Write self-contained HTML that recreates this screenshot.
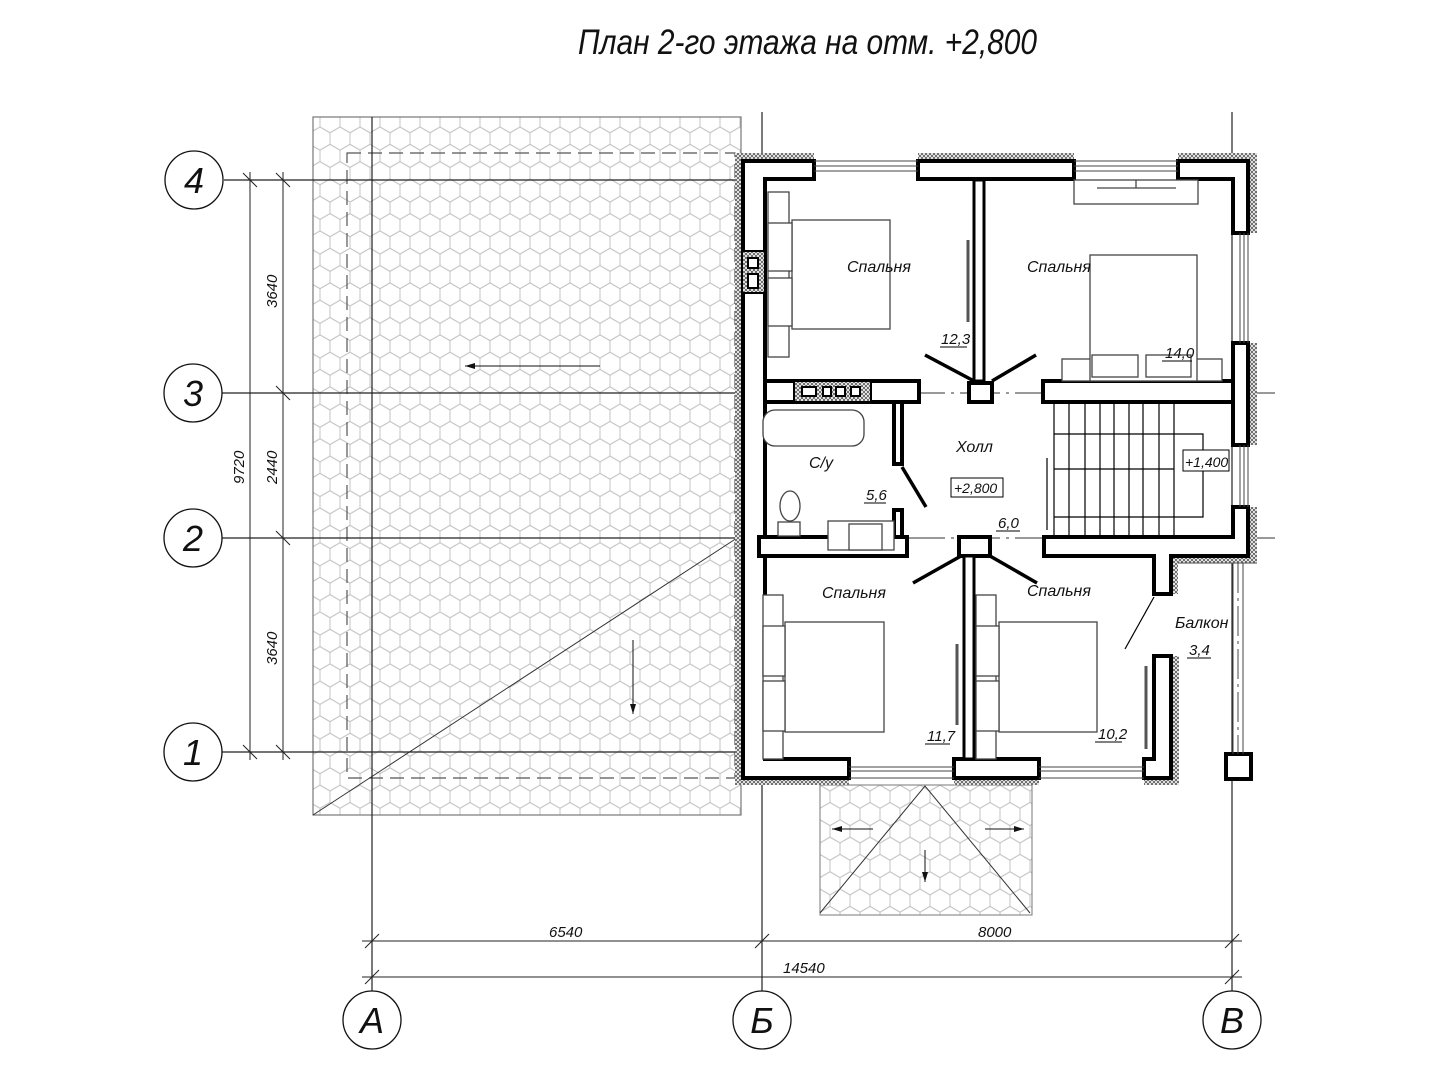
<!DOCTYPE html>
<html><head><meta charset="utf-8"><style>
html,body{margin:0;padding:0;background:#fff;}
svg{display:block;}
text{font-family:"Liberation Sans","DejaVu Sans",sans-serif;font-style:italic;fill:#111;}
</style></head><body>
<svg width="1440" height="1080" viewBox="0 0 1440 1080" xmlns="http://www.w3.org/2000/svg">
<defs>
<pattern id="hex" width="20" height="34.64" patternUnits="userSpaceOnUse">
<g fill="none" stroke="#c4c4c4" stroke-width="1">
<polygon points="10,5.77 20,11.55 20,23.09 10,28.87 0,23.09 0,11.55"/>
<polygon points="0,-11.55 10,-5.77 10,5.77 0,11.55 -10,5.77 -10,-5.77"/>
<polygon points="20,-11.55 30,-5.77 30,5.77 20,11.55 10,5.77 10,-5.77"/>
<polygon points="0,23.09 10,28.87 10,40.41 0,46.19 -10,40.41 -10,28.87"/>
<polygon points="20,23.09 30,28.87 30,40.41 20,46.19 10,40.41 10,28.87"/>
</g></pattern>
<pattern id="cross" width="4" height="4" patternUnits="userSpaceOnUse">
<rect width="4" height="4" fill="#fff"/><path d="M0,0L4,4M4,0L0,4" stroke="#555" stroke-width="0.8"/>
</pattern>
<marker id="ar" markerWidth="10" markerHeight="6" refX="10" refY="3" orient="auto" markerUnits="userSpaceOnUse"><path d="M0,0L10,3L0,6z" fill="#111"/></marker>
</defs>

<!-- title -->
<text x="578" y="54" font-size="35" textLength="459" lengthAdjust="spacingAndGlyphs" style="font-weight:normal">План 2-го этажа на отм. +2,800</text>

<!-- left roof -->
<rect x="313" y="117" width="428" height="698" fill="url(#hex)" stroke="#777" stroke-width="1.2"/>
<rect x="347" y="153" width="388" height="625" fill="none" stroke="#555" stroke-width="1.2" stroke-dasharray="14,7"/>
<line x1="313" y1="815" x2="737" y2="538" stroke="#333" stroke-width="1"/>
<line x1="600" y1="366" x2="465" y2="366" stroke="#111" stroke-width="1" marker-end="url(#ar)"/>
<line x1="633" y1="640" x2="633" y2="714" stroke="#111" stroke-width="1" marker-end="url(#ar)"/>

<!-- porch roof -->
<rect x="820" y="785" width="212" height="130" fill="url(#hex)" stroke="#777" stroke-width="1"/>
<polyline points="820,913 925,786 1030,913" fill="none" stroke="#333" stroke-width="1"/>
<line x1="873" y1="829" x2="832" y2="829" stroke="#111" marker-end="url(#ar)"/>
<line x1="985" y1="829" x2="1024" y2="829" stroke="#111" marker-end="url(#ar)"/>
<line x1="925" y1="850" x2="925" y2="882" stroke="#111" marker-end="url(#ar)"/>

<!-- grid lines -->
<g stroke="#222" stroke-width="1.2">
<line x1="372" y1="117" x2="372" y2="992"/>
<line x1="762" y1="112" x2="762" y2="992"/>
<line x1="1232" y1="112" x2="1232" y2="992"/>
<line x1="224" y1="180" x2="760" y2="180"/>
<line x1="221" y1="393" x2="740" y2="393"/>
<line x1="221" y1="538" x2="740" y2="538"/>
<line x1="221" y1="752" x2="740" y2="752"/>
</g>
<g stroke="#333" stroke-width="1" stroke-dasharray="40,6,3,6">
<line x1="740" y1="393" x2="1275" y2="393"/>
<line x1="740" y1="538" x2="1275" y2="538"/>
</g>
<!-- axis circles -->
<g fill="#fff" stroke="#111" stroke-width="1.3">
<circle cx="194" cy="180" r="29"/><circle cx="193" cy="393" r="29"/><circle cx="193" cy="538" r="29"/><circle cx="193" cy="752" r="29"/>
<circle cx="372" cy="1020" r="29"/><circle cx="762" cy="1020" r="29"/><circle cx="1232" cy="1020" r="29"/>
</g>
<g font-size="36" text-anchor="middle">
<text x="194" y="193">4</text><text x="193" y="406">3</text><text x="193" y="551">2</text><text x="193" y="765">1</text>
<text x="372" y="1033">А</text><text x="762" y="1033">Б</text><text x="1232" y="1033">В</text>
</g>

<!-- dims left -->
<g stroke="#222" stroke-width="1">
<line x1="250" y1="172" x2="250" y2="760"/>
<line x1="283" y1="172" x2="283" y2="760"/>
<path d="M243,173l14,14M276,173l14,14M276,386l14,14M276,531l14,14M243,745l14,14M276,745l14,14"/>
<line x1="362" y1="941" x2="1242" y2="941"/>
<line x1="362" y1="977" x2="1242" y2="977"/>
<path d="M365,948l14,-14M755,948l14,-14M1225,948l14,-14M365,984l14,-14M1225,984l14,-14"/>
</g>
<g font-size="15">
<text transform="translate(277,308) rotate(-90)">3640</text>
<text transform="translate(277,484) rotate(-90)">2440</text>
<text transform="translate(277,665) rotate(-90)">3640</text>
<text transform="translate(244,484) rotate(-90)">9720</text>
<text x="549" y="937">6540</text>
<text x="978" y="937">8000</text>
<text x="783" y="973">14540</text>
</g>

<!-- outer hatch layer -->
<g fill="url(#cross)" stroke="none">
<rect x="735" y="153" width="8" height="627"/>
<rect x="735" y="153" width="79" height="8"/>
<rect x="918" y="153" width="156" height="8"/>
<rect x="1178" y="153" width="79" height="8"/>
<rect x="1248" y="153" width="9" height="80"/>
<rect x="1248" y="343" width="9" height="102"/>
<rect x="1248" y="507" width="9" height="56"/>
<rect x="1171" y="556" width="86" height="7"/>
<rect x="1171" y="556" width="7" height="38"/>
<rect x="1173" y="656" width="6" height="129"/>
<rect x="735" y="778" width="114" height="7"/>
<rect x="954" y="778" width="85" height="7"/>
<rect x="1144" y="778" width="35" height="7"/>
</g>

<!-- walls -->
<g fill="#fff" stroke="#000" stroke-width="4">
<path d="M743,161H814V179H765V759H849V778H743Z"/>
<rect x="918" y="161" width="156" height="18"/>
<path d="M1178,161H1248V233H1233V179H1178Z"/>
<rect x="1233" y="343" width="15" height="102"/>
<path d="M1233,507H1248V556H1171V594H1154V556H1044V537H1233Z"/>
<rect x="765" y="381" width="154" height="21"/>
<rect x="1043" y="381" width="190" height="21"/>
<rect x="969" y="383" width="23" height="19"/>
<rect x="894" y="402" width="8" height="62"/>
<rect x="894" y="510" width="8" height="40"/>
<rect x="759" y="537" width="148" height="19"/>
<rect x="959" y="537" width="31" height="19"/>
<rect x="954" y="759" width="85" height="19"/>
<path d="M1144,759H1154V656H1171V778H1144Z"/>
<rect x="1226" y="754" width="25" height="25"/>
</g>
<!-- chimney -->
<rect x="794" y="381" width="77" height="21" fill="url(#cross)" stroke="#000" stroke-width="2"/>
<rect x="742" y="251" width="23" height="42" fill="url(#cross)" stroke="#000" stroke-width="2"/>
<g fill="#fff" stroke="#000" stroke-width="2">
<rect x="802" y="387" width="14" height="9"/><rect x="823" y="387" width="8" height="9"/><rect x="836" y="387" width="9" height="9"/><rect x="851" y="387" width="9" height="9"/>
<rect x="748" y="258" width="10" height="10"/><rect x="748" y="274" width="10" height="14"/>
</g>
<!-- partitions -->
<g fill="#fff" stroke="#000" stroke-width="3">
<rect x="974" y="180" width="10" height="201"/>
<rect x="964" y="556" width="10" height="203"/>
</g>
<!-- windows -->
<g stroke="#444" stroke-width="1" fill="none">
<path d="M814,161H918M814,166H918M814,171H918"/>
<path d="M1074,161H1178M1074,166H1178M1074,171H1178"/>
<path d="M1240,233V343M1244,233V343M1248,233V343"/>
<path d="M1240,445V507M1244,445V507M1248,445V507"/>
<path d="M849,767H954M849,771H954M849,778H954"/>
<path d="M1039,767H1144M1039,771H1144M1039,778H1144"/>
<path d="M1233,563V754M1243,563V754"/>
<path d="M1238,563V754" stroke-dasharray="30,5,3,5"/>
<path d="M1178,563H1257"/>
</g>
<!-- door swings -->
<g stroke="#000" stroke-width="3.5">
<line x1="925" y1="355" x2="974" y2="381"/><line x1="1036" y1="355" x2="992" y2="381"/>
<line x1="913" y1="583" x2="961" y2="556"/><line x1="1037" y1="583" x2="990" y2="556"/>
<line x1="902" y1="467" x2="926" y2="507"/>
</g>
<line x1="1154" y1="597" x2="1125" y2="649" stroke="#000" stroke-width="1.2"/>

<!-- stairs -->
<g stroke="#000" stroke-width="1.2" fill="none">
<path d="M1054,403V537M1069,403V537M1085,403V537M1100,403V537M1114,403V537M1129,403V537M1143,403V537M1159,403V537M1174,403V537"/>
<path d="M1054,469H1174"/>
<path d="M1054,434H1203V517H1054"/>
<path d="M1047,458V530"/>
</g>
<rect x="1183" y="450" width="46" height="21" fill="#fff" stroke="#000" stroke-width="1"/>
<text x="1185" y="467" font-size="14">+1,400</text>

<!-- furniture -->
<g fill="#fff" stroke="#444" stroke-width="1.3">
<rect x="768" y="192" width="21" height="165"/>
<rect x="792" y="220" width="98" height="109"/>
<rect x="768" y="223" width="24" height="48"/><rect x="768" y="278" width="24" height="48"/>
<rect x="1074" y="180" width="124" height="24"/>
<line x1="1097" y1="188" x2="1176" y2="188"/><line x1="1136" y1="180" x2="1136" y2="188"/>
<rect x="1062" y="359" width="160" height="22"/>
<rect x="1090" y="255" width="107" height="126"/>
<rect x="1092" y="355" width="46" height="22"/><rect x="1146" y="355" width="45" height="22"/>
<line x1="968" y1="240" x2="968" y2="322" stroke-width="3" stroke="#555"/>
<rect x="763" y="410" width="101" height="36" rx="12"/>
<rect x="828" y="521" width="66" height="29"/><rect x="849" y="524" width="33" height="26"/>
<ellipse cx="790" cy="506" rx="10" ry="15"/><rect x="778" y="522" width="22" height="14"/>
<rect x="763" y="595" width="20" height="164"/>
<rect x="785" y="622" width="99" height="110"/>
<rect x="763" y="626" width="22" height="50"/><rect x="763" y="681" width="22" height="50"/>
<rect x="976" y="595" width="20" height="164"/>
<rect x="999" y="622" width="98" height="110"/>
<rect x="976" y="626" width="23" height="50"/><rect x="976" y="681" width="23" height="50"/>
<line x1="957" y1="644" x2="957" y2="725" stroke-width="3" stroke="#555"/>
<line x1="1146" y1="666" x2="1146" y2="749" stroke-width="3" stroke="#555"/>
</g>

<!-- labels -->
<g font-size="16">
<text x="847" y="272">Спальня</text>
<text x="1027" y="272">Спальня</text>
<text x="956" y="452">Холл</text>
<text x="809" y="468">С/у</text>
<text x="822" y="598">Спальня</text>
<text x="1027" y="596">Спальня</text>
<text x="1175" y="628">Балкон</text>
</g>
<g font-size="15">
<text x="941" y="344">12,3</text><line x1="940" y1="347" x2="967" y2="347" stroke="#000"/>
<text x="1165" y="358">14,0</text><line x1="1162" y1="361" x2="1192" y2="361" stroke="#000"/>
<text x="866" y="500">5,6</text><line x1="864" y1="503" x2="886" y2="503" stroke="#000"/>
<text x="998" y="528">6,0</text><line x1="996" y1="531" x2="1020" y2="531" stroke="#000"/>
<text x="927" y="741">11,7</text><line x1="925" y1="744" x2="950" y2="744" stroke="#000"/>
<text x="1098" y="739">10,2</text><line x1="1095" y1="742" x2="1122" y2="742" stroke="#000"/>
<text x="1189" y="655">3,4</text><line x1="1187" y1="658" x2="1211" y2="658" stroke="#000"/>
</g>
<rect x="951" y="478" width="52" height="19" fill="#fff" stroke="#000" stroke-width="1"/>
<text x="954" y="493" font-size="14">+2,800</text>
</svg>
</body></html>
